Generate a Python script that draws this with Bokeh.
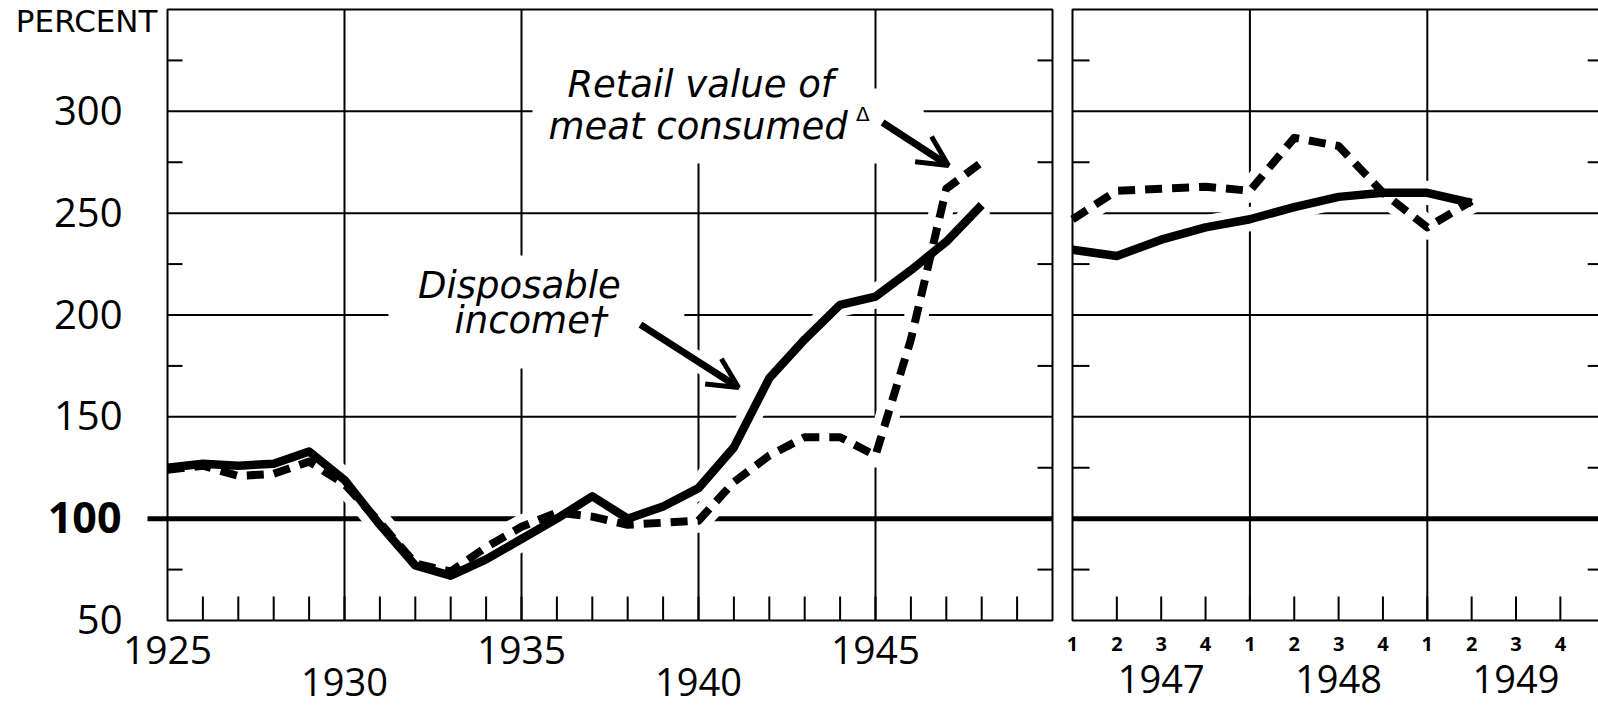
from bokeh.plotting import figure
from bokeh.models import Range1d, Label, Arrow, OpenHead
from bokeh.layouts import row
from bokeh.embed import file_html
from bokeh.resources import INLINE

# ---------------- data ----------------
years = [1925, 1926, 1927, 1928, 1929, 1930, 1931, 1932, 1933, 1934, 1935, 1936,
         1937, 1938, 1939, 1940, 1941, 1942, 1943, 1944, 1945, 1946, 1947, 1948]
disposable_income = [125, 127, 126, 127, 133, 119, 97, 77, 72, 80, 90, 100,
                     111, 100, 106, 115, 135, 169, 188, 205, 209, 222, 236, 254]
meat_value = [124, 126, 121, 122, 128, 117, 98, 78, 74, 86, 96, 103,
              101, 97, 98, 99, 118, 131, 140, 140, 131, 188, 262, 275]

quarters = [0, 1, 2, 3, 4, 5, 6, 7, 8, 9]          # 1947 Q1 ... 1949 Q2
quarter_income = [232, 229, 237, 243, 247, 253, 258, 260, 260, 255]
quarter_meat = [247, 261, 262, 263, 261, 287, 283, 260, 243, 256]

year_ticks = list(range(1926, 1950))
year_grid = [1930, 1935, 1940, 1945]
upper_year_labels = [1925, 1935, 1945]
lower_year_labels = [1930, 1940]
quarter_ticks = list(range(1, 12))
quarter_grid = [4, 8]
quarter_label_pos = list(range(12))
quarter_tick_labels = ["1", "2", "3", "4"] * 3
quarter_years = ["1947", "1948", "1949"]
quarter_year_pos = [2, 6, 10]
y_tick_values = [50, 150, 200, 250, 300]
y_bold_value = 100
y_grid = [150, 200, 250, 300]
y_mid_ticks = [75, 125, 175, 225, 275, 325]

NUM_FONT = "Open Sans"
ANN_FONT = "DejaVu Sans"
H = 708

# layout geometry (pixels)
PX_YEAR = 35.4          # pixels per year, left panel
PX_Q = 44.35            # pixels per quarter, right panel
PX_UNIT = 611 / 300     # pixels per percent point
FRAME_LEFT = 167
LEFT_W = 1062
RIGHT_W = 536
Y0 = 50 - 88 / PX_UNIT
Y1 = 350 + 9 / PX_UNIT
TICK_UP = 50 + 24 / PX_UNIT
BASE_FIX = 0.4          # baseline correction, fraction of font size


def make_fig(width, x0, x1):
    p = figure(width=width, height=H, x_range=Range1d(x0, x1), y_range=Range1d(Y0, Y1),
               output_backend="svg", toolbar_location=None,
               x_axis_location=None, y_axis_location=None,
               min_border=0, min_border_left=0, min_border_right=0,
               min_border_top=0, min_border_bottom=0,
               background_fill_color="white", border_fill_color="white")
    p.outline_line_color = None
    p.xgrid.visible = False
    p.ygrid.visible = False
    return p


def hlines(p, ys, x0, x1, width=2, level="underlay"):
    n = len(ys)
    p.segment(x0=[x0] * n, y0=ys, x1=[x1] * n, y1=ys, line_color="black",
              line_width=width, level=level)


def vlines(p, xs, y0, y1, width=2, level="underlay"):
    n = len(xs)
    p.segment(x0=xs, y0=[y0] * n, x1=xs, y1=[y1] * n, line_color="black",
              line_width=width, level=level)


def draw_series(p, xs, inc, meat):
    p.line(xs, meat, line_color="white", line_width=24, line_join="round")
    p.line(xs, inc, line_color="white", line_width=24, line_join="round")
    p.line(xs, meat, line_color="black", line_width=8, line_dash="17 10", line_join="round")
    p.line(xs, inc, line_color="black", line_width=8.5, line_join="round")


def text(p, x, y, s, size, font=NUM_FONT, style="normal", align="center", dx=0, dy=0):
    fix = BASE_FIX * size
    p.add_layout(Label(x=x, y=y, x_offset=dx, y_offset=dy + fix, text=s, text_align=align,
                       text_baseline="alphabetic", text_font=font,
                       text_font_size="%dpx" % size, text_font_style=style,
                       text_color="black"))


# ---------------- left panel: annual ----------------
LX0 = 1925 - FRAME_LEFT / PX_YEAR
pl = make_fig(LEFT_W, LX0, LX0 + LEFT_W / PX_YEAR)

hlines(pl, y_grid, 1925, 1950)
hlines(pl, [100], 1925 - 20 / PX_YEAR, 1950, width=5)
vlines(pl, year_grid, 50, 350)

# white boxes behind the annotation texts (they break the grid like the original)
pl.quad(left=[1935.31, 1935.31, 1931.24], right=[1946.36, 1944.58, 1939.6],
        top=[311.2, 350, 229.2], bottom=[274.4, 311.2, 173.7],
        fill_color="white", line_color=None, level="underlay")

arrows = [(1938.36, 195.3, 1941.13, 164.4), (1945.2, 294.5, 1947.06, 273.4)]
for (x0, y0, x1, y1) in arrows:
    pl.add_layout(Arrow(x_start=x0, y_start=y0, x_end=x1, y_end=y1, line_color="white",
                        line_width=20, end=OpenHead(size=30, line_color="white", line_width=16),
                        level="glyph"))

draw_series(pl, years, disposable_income, meat_value)

# frame and inner ticks
pl.quad(left=[1925], right=[1950], bottom=[50], top=[350], fill_color=None,
        line_color="black", line_width=2, level="guide")
hlines(pl, y_mid_ticks, 1925, 1925 + 15 / PX_YEAR, level="guide")
hlines(pl, y_mid_ticks, 1950 - 15 / PX_YEAR, 1950, level="guide")
vlines(pl, year_ticks, 50, TICK_UP, level="guide")

# tick labels
for v in y_tick_values:
    text(pl, 1925, v, str(v), 40, align="right", dx=-45, dy=-15)
text(pl, 1925, y_bold_value, str(y_bold_value), 43, style="bold", align="right", dx=-46, dy=-16)
text(pl, 1925, 350, "PERCENT", 31, font=ANN_FONT, align="right", dx=-10, dy=-24)
for yv in upper_year_labels:
    text(pl, yv, 50, str(yv), 39, dy=-45)
for yv in lower_year_labels:
    text(pl, yv, 50, str(yv), 38, dy=-77)

# annotations
text(pl, 1940.06, 305.8, "Retail value of", 37, font=ANN_FONT, style="italic")
text(pl, 1939.99, 285.2, "meat consumed", 37, font=ANN_FONT, style="italic")
text(pl, 1944.45, 295.0, "\u0394", 20, font=ANN_FONT, align="left")
text(pl, 1934.94, 207.1, "Disposable", 37, font=ANN_FONT, style="italic")
text(pl, 1935.28, 189.9, "income\u2020", 37, font=ANN_FONT, style="italic")

for (x0, y0, x1, y1) in arrows:
    pl.add_layout(Arrow(x_start=x0, y_start=y0, x_end=x1, y_end=y1, line_color="black",
                        line_width=7, end=OpenHead(size=30, line_color="black", line_width=5)))

# ---------------- right panel: quarterly ----------------
RX0 = -(1072 - LEFT_W) / PX_Q
RX1 = RX0 + RIGHT_W / PX_Q
pr = make_fig(RIGHT_W, RX0, RX1)

hlines(pr, y_grid, 0, 12)
hlines(pr, [100], 0, 12, width=5)
vlines(pr, quarter_grid, 50, 350)
draw_series(pr, quarters, quarter_income, quarter_meat)

pr.quad(left=[0], right=[12], bottom=[50], top=[350], fill_color=None,
        line_color="black", line_width=2, level="guide")
hlines(pr, y_mid_ticks, 0, 17 / PX_Q, level="guide")
hlines(pr, y_mid_ticks, 12 - 17 / PX_Q, 12, level="guide")
vlines(pr, quarter_ticks, 50, TICK_UP, level="guide")

for q, lab in zip(quarter_label_pos, quarter_tick_labels):
    text(pr, q, 50, lab, 20, style="bold", dy=-31)
for q, lab in zip(quarter_year_pos, quarter_years):
    text(pr, q, 50, lab, 38, dy=-74)

layout = row(pl, pr)
open("out.html", "w").write(file_html(layout, INLINE))
